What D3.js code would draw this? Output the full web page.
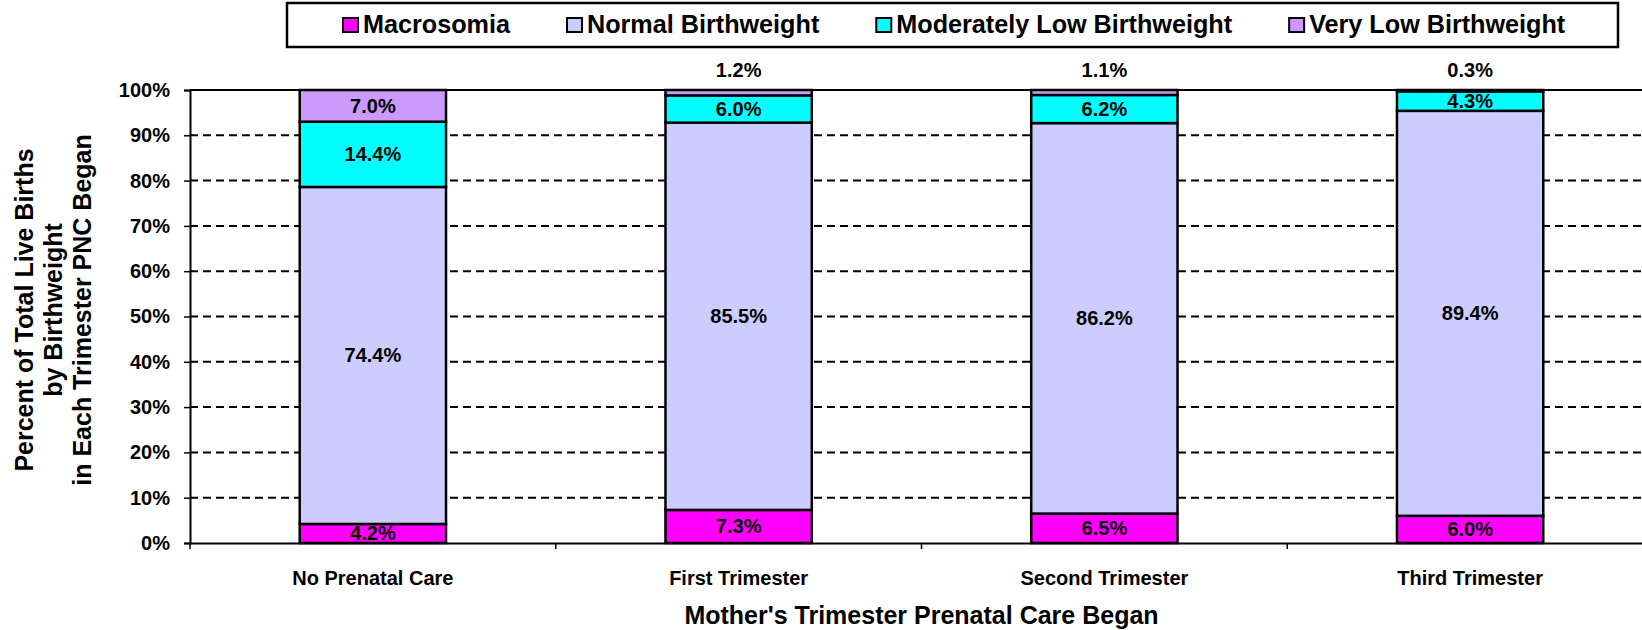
<!DOCTYPE html>
<html>
<head>
<meta charset="utf-8">
<script src="https://cdn.jsdelivr.net/npm/d3@7"></script>
<style>
  body { margin: 0; background: #fff; }
  svg { display: block; font-family: "Liberation Sans", Arial, sans-serif; font-weight: bold; }
</style>
</head>
<body>
<script>
// chart data
const categories = ["No Prenatal Care", "First Trimester", "Second Trimester", "Third Trimester"];
const seriesNames = ["Macrosomia", "Normal Birthweight", "Moderately Low Birthweight", "Very Low Birthweight"];
const macrosomia = [4.2, 7.3, 6.5, 6.0];
const normalBw = [74.4, 85.5, 86.2, 89.4];
const modLowBw = [14.4, 6.0, 6.2, 4.3];
const veryLowBw = [7.0, 1.2, 1.1, 0.3];
const yTicks = [0, 10, 20, 30, 40, 50, 60, 70, 80, 90, 100];
const colors = ["#FF00FF", "#CCCCFF", "#00FFFF", "#CC99FF"];

const width = 1642, height = 630;
const plotLeft = 190, plotRight = 1653, plotTop = 90, plotBottom = 543;

const canvas = d3.select("body").append("svg")
  .attr("width", width)
  .attr("height", height);

const rows = categories.map((c, i) => ({
  cat: c,
  [seriesNames[0]]: macrosomia[i],
  [seriesNames[1]]: normalBw[i],
  [seriesNames[2]]: modLowBw[i],
  [seriesNames[3]]: veryLowBw[i]
}));
const stacked = d3.stack().keys(seriesNames)(rows);

const x = d3.scaleBand()
  .domain(categories)
  .range([plotLeft, plotRight])
  .paddingInner(0.6)
  .paddingOuter(0.3);

const y = d3.scaleLinear()
  .domain([0, 100])
  .range([plotBottom, plotTop]);

const color = d3.scaleOrdinal().domain(seriesNames).range(colors);

// dashed gridlines
canvas.append("g")
  .selectAll("line")
  .data(yTicks.filter(t => t > 0 && t < 100))
  .enter()
  .append("line")
  .attr("x1", plotLeft).attr("x2", plotRight)
  .attr("y1", d => y(d)).attr("y2", d => y(d))
  .attr("stroke", "#000")
  .attr("stroke-width", 2)
  .attr("stroke-dasharray", "8,5");

// top border of plot
canvas.append("line")
  .attr("x1", plotLeft).attr("x2", plotRight)
  .attr("y1", y(100)).attr("y2", y(100))
  .attr("stroke", "#000").attr("stroke-width", 2);

// y axis
const yAxis = d3.axisLeft(y)
  .tickValues(yTicks)
  .tickFormat(d => d + "%")
  .tickSize(6)
  .tickPadding(14);
const gy = canvas.append("g")
  .attr("transform", `translate(${plotLeft},0)`)
  .call(yAxis);
gy.select(".domain").attr("stroke-width", 2);
gy.selectAll(".tick line").attr("stroke-width", 1.5);
gy.selectAll("text")
  .attr("font-size", 20)
  .attr("font-family", "Liberation Sans, Arial, sans-serif")
  .attr("font-weight", "bold")
  .attr("fill", "#000");

// x axis with ticks between categories
const xAxis = d3.axisBottom(x).tickSize(0).tickPadding(0).tickFormat("");
const gx = canvas.append("g")
  .attr("transform", `translate(0,${plotBottom})`)
  .call(xAxis);
gx.select(".domain").attr("stroke-width", 2);
gx.selectAll(".tick").remove();
const step = x.step();
gx.selectAll("line.sep")
  .data(d3.range(categories.length + 1))
  .enter()
  .append("line")
  .attr("class", "sep")
  .attr("x1", i => plotLeft + i * step).attr("x2", i => plotLeft + i * step)
  .attr("y1", 0).attr("y2", 6)
  .attr("stroke", "#000").attr("stroke-width", 1.5);

canvas.append("g")
  .selectAll("text")
  .data(categories)
  .enter()
  .append("text")
  .attr("x", d => x(d) + x.bandwidth() / 2)
  .attr("y", 585)
  .attr("text-anchor", "middle")
  .attr("font-size", 20)
  .text(d => d);

// bars
const layers = canvas.append("g")
  .selectAll("g")
  .data(stacked)
  .enter()
  .append("g")
  .attr("fill", d => color(d.key));

layers.selectAll("rect")
  .data(d => d)
  .enter()
  .append("rect")
  .attr("x", d => x(d.data.cat))
  .attr("width", x.bandwidth())
  .attr("y", d => y(d[1]))
  .attr("height", d => y(d[0]) - y(d[1]))
  .attr("stroke", "#000")
  .attr("stroke-width", 2.5);

// value labels (tiny segments get their label above the bar)
const labels = [];
stacked.forEach(layer => {
  layer.forEach(d => {
    const v = d[1] - d[0];
    labels.push({ cat: d.data.cat, v: v, lo: d[0], hi: d[1] });
  });
});
canvas.append("g")
  .selectAll("text")
  .data(labels)
  .enter()
  .append("text")
  .attr("x", d => x(d.cat) + x.bandwidth() / 2)
  .attr("y", d => d.v < 2 ? y(100) - 20 : y((d.lo + d.hi) / 2))
  .attr("dy", "0.35em")
  .attr("text-anchor", "middle")
  .attr("font-size", 20)
  .text(d => d3.format(".1f")(d.v) + "%");

// axis titles
canvas.append("text")
  .attr("x", (plotLeft + plotRight) / 2)
  .attr("y", 624)
  .attr("text-anchor", "middle")
  .attr("font-size", 25)
  .text("Mother's Trimester Prenatal Care Began");

const yTitle = ["Percent of Total Live Births", "by Birthweight", "in Each Trimester PNC Began"];
canvas.append("g")
  .attr("transform", "translate(0,310) rotate(-90)")
  .selectAll("text")
  .data(yTitle)
  .enter()
  .append("text")
  .attr("x", 0)
  .attr("y", (d, i) => 33 + i * 29)
  .attr("text-anchor", "middle")
  .attr("font-size", 25)
  .text(d => d);

// legend
const legend = canvas.append("g");
legend.append("rect")
  .attr("x", 287).attr("y", 3)
  .attr("width", 1331).attr("height", 44)
  .attr("fill", "#fff")
  .attr("stroke", "#000")
  .attr("stroke-width", 2.5);

let lx = 343;
seriesNames.forEach(name => {
  legend.append("rect")
    .attr("x", lx).attr("y", 18)
    .attr("width", 15).attr("height", 14)
    .attr("fill", color(name))
    .attr("stroke", "#000")
    .attr("stroke-width", 2);
  const t = legend.append("text")
    .attr("x", lx + 20)
    .attr("y", 33)
    .attr("font-size", 25.2)
    .text(name);
  lx = lx + 20 + t.node().getComputedTextLength() + 57;
});
</script>
</body>
</html>
